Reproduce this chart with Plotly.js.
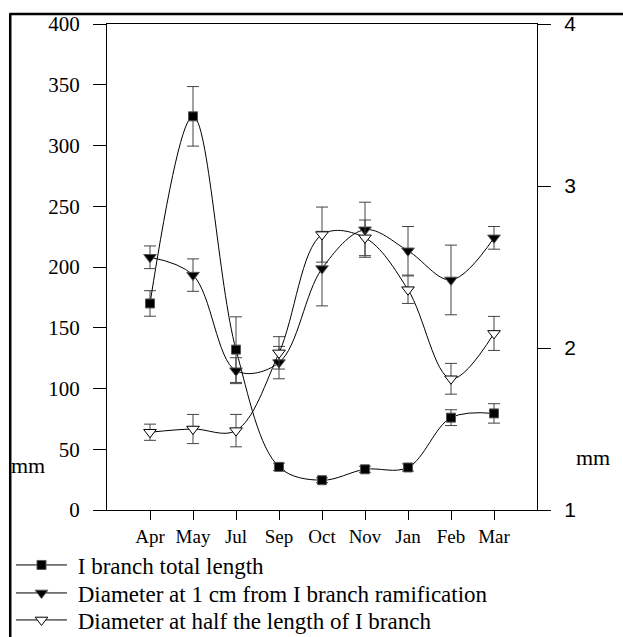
<!DOCTYPE html>
<html>
<head>
<meta charset="utf-8">
<script src="https://cdn.plot.ly/plotly-3.0.1.min.js"></script>
<style>html,body{margin:0;padding:0;background:#fff;overflow:hidden;}#chart{width:623px;height:680px;}</style>
</head>
<body>
<div id="chart"></div>
<script>
const months = ["Apr","May","Jul","Sep","Oct","Nov","Jan","Feb","Mar"];
const lengthVals = [170, 324, 132, 35.5, 24.5, 33.5, 35, 76, 79.5];
const lengthErr  = [10.5, 24.5, 27, 3, 2, 2.5, 3, 6.5, 8];
const diam1cmVals = [2.56, 2.45, 1.86, 1.91, 2.49, 2.73, 2.60, 2.42, 2.68];
const diam1cmErr  = [0.07, 0.10, 0.08, 0.10, 0.23, 0.17, 0.15, 0.215, 0.07];
const diamHalfVals = [1.48, 1.50, 1.49, 1.97, 2.70, 2.68, 2.36, 1.81, 2.09];
const diamHalfErr  = [0.05, 0.09, 0.10, 0.10, 0.17, 0.11, 0.085, 0.095, 0.105];
const leftTicks = [0, 50, 100, 150, 200, 250, 300, 350, 400];
const rightTicks = [1, 2, 3, 4];
const seriesNames = ["I branch total length",
                     "Diameter at 1 cm from I branch ramification",
                     "Diameter at half the length of I branch"];

const serif = "'Liberation Serif', 'Times New Roman', serif";
const sans = "'Liberation Sans', Arial, sans-serif";
const errStyle = {type: "data", visible: true, color: "#444", thickness: 1, width: 6};
const nb = "\u00a0";

const traces = [
  {
    x: months, y: lengthVals, name: nb + seriesNames[0], legend: "legend",
    type: "scatter", mode: "lines+markers",
    line: {shape: "spline", smoothing: 1, color: "#000", width: 1},
    marker: {symbol: "square", size: 9, color: "#000", line: {color: "#555", width: 1}},
    error_y: Object.assign({array: lengthErr}, errStyle)
  },
  {
    x: months, y: diam1cmVals, name: nb + seriesNames[1], legend: "legend2",
    yaxis: "y2", type: "scatter", mode: "lines+markers",
    line: {shape: "spline", smoothing: 1, color: "#000", width: 1},
    marker: {symbol: "triangle-down", size: 11, color: "#000", line: {color: "#555", width: 1}},
    error_y: Object.assign({array: diam1cmErr}, errStyle)
  },
  {
    x: months, y: diamHalfVals, name: nb + seriesNames[2], legend: "legend3",
    yaxis: "y2", type: "scatter", mode: "lines+markers",
    line: {shape: "spline", smoothing: 1, color: "#000", width: 1},
    marker: {symbol: "triangle-down", size: 11, color: "#fff", line: {color: "#000", width: 1}},
    error_y: Object.assign({array: diamHalfErr}, errStyle)
  }
];

function legendAt(py) {
  return {
    x: (11 - 106) / 431, xanchor: "left", y: (510 - py) / 486, yanchor: "middle",
    bgcolor: "rgba(0,0,0,0)", font: {family: serif, size: 23},
    itemwidth: 51, borderwidth: 0
  };
}

const layout = {
  width: 623, height: 680,
  margin: {l: 106, r: 86, t: 24, b: 170, pad: 0},
  paper_bgcolor: "#fff", plot_bgcolor: "#fff",
  showlegend: true,
  font: {family: serif, color: "#000", size: 16},
  xaxis: {
    type: "category", range: [-1, 9],
    showline: true, mirror: true, linecolor: "#000", linewidth: 1,
    ticks: "outside", ticklen: 9, tickcolor: "#000", tickwidth: 1,
    showgrid: false, zeroline: false,
    tickfont: {family: serif, size: 19}, ticklabelstandoff: 0
  },
  yaxis: {
    range: [0, 400], tickvals: leftTicks,
    showline: true, linecolor: "#000", linewidth: 1,
    ticks: "outside", ticklen: 13, tickcolor: "#000", tickwidth: 1,
    showgrid: false, zeroline: false,
    tickfont: {family: serif, size: 21}, ticklabelstandoff: 9
  },
  yaxis2: {
    range: [1, 4], tickvals: rightTicks, overlaying: "y", side: "right",
    showline: true, linecolor: "#000", linewidth: 1,
    ticks: "outside", ticklen: 13, tickcolor: "#000", tickwidth: 1,
    showgrid: false, zeroline: false,
    tickfont: {family: sans, size: 21}, ticklabelstandoff: 9
  },
  legend: legendAt(565),
  legend2: legendAt(593),
  legend3: legendAt(620),
  annotations: [
    {xref: "paper", yref: "paper", x: (27 - 106) / 431, y: (510 - 465) / 486, text: "mm", showarrow: false,
     xanchor: "center", yanchor: "middle", font: {family: serif, size: 22}},
    {xref: "paper", yref: "paper", x: (593 - 106) / 431, y: (510 - 457) / 486, text: "mm", showarrow: false,
     xanchor: "center", yanchor: "middle", font: {family: serif, size: 22}}
  ],
  shapes: [
    {type: "line", xref: "paper", yref: "paper", x0: (8-106)/431, x1: (630-106)/431,
     y0: (510-14)/486, y1: (510-14)/486, line: {color: "#000", width: 2.5}},
    {type: "line", xref: "paper", yref: "paper", x0: (9-106)/431, x1: (9-106)/431,
     y0: (510-14)/486, y1: (510-690)/486, line: {color: "#000", width: 2.5}}
  ]
};

Plotly.newPlot("chart", traces, layout, {displayModeBar: false, staticPlot: true});
</script>
</body>
</html>
